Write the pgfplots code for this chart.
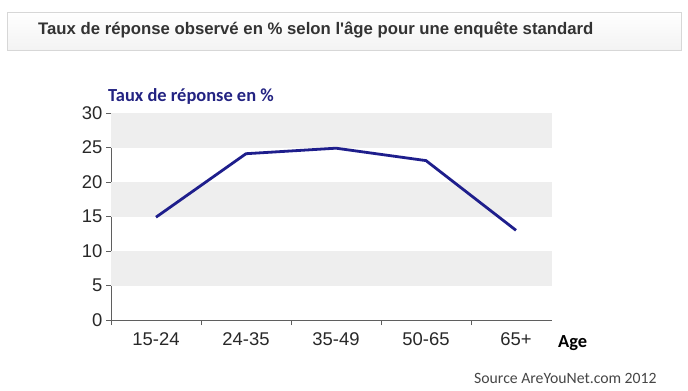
\documentclass[border=0pt]{standalone}
\usepackage{pgfplots}
\pgfplotsset{compat=1.18}
\usepackage{fontspec}
\setmainfont{Liberation Sans}
\newfontfamily\titlefont{Liberation Sans}
\newfontfamily\calibri{Carlito}
\definecolor{navyline}{RGB}{30,30,140}
\definecolor{bandgray}{RGB}{238,238,238}
\definecolor{titletxt}{RGB}{51,51,51}
\definecolor{axgray}{RGB}{95,95,95}
\begin{document}
\begin{tikzpicture}[x=1bp,y=1bp]
\path[use as bounding box] (0,0) rectangle (688,390);
% title box
\shade[top color=white,bottom color={rgb,255:red,243;green,243;blue,243},draw={rgb,255:red,215;green,215;blue,215},line width=0.8bp] (7,340) rectangle (681,378);
\node[anchor=west,font=\titlefont\fontsize{16.8}{20}\selectfont\bfseries,text=titletxt,inner sep=0] at (38,360) {Taux de réponse observé en \% selon l'âge pour une enquête standard};
\begin{axis}[
  at={(111bp,70bp)}, anchor=south west,
  scale only axis, width=441bp, height=207bp,
  xmin=-0.5, xmax=4.4, ymin=0, ymax=30,
  axis x line=bottom, axis y line=left,
  axis line style={-, draw=axgray, line width=1bp},
  xtick={0,1,2,3,4},
  xticklabels={15-24,24-35,35-49,50-65,65+},
  major x tick style={draw=none},
  minor xtick={-0.5,0.5,1.5,2.5,3.5},
  minor x tick style={draw=axgray, line width=1bp},
  minor tick length=5bp,
  ytick={0,5,...,30},
  major tick length=5bp,
  y tick style={draw=axgray, line width=1bp},
  tick align=outside,
  ymajorgrids,
  grid style={dotted, draw={rgb,255:red,175;green,175;blue,175}, line width=0.8bp},
  ticklabel style={font=\fontsize{18.5}{21}\selectfont, text={rgb,255:red,40;green,40;blue,40}},
  xticklabel style={yshift=-4bp},
  /pgf/number format/assume math mode=true,
  axis on top=false,
  clip=false,
]
\fill[bandgray] (axis cs:-0.5,5) rectangle (axis cs:4.4,10);
\fill[bandgray] (axis cs:-0.5,15) rectangle (axis cs:4.4,20);
\fill[bandgray] (axis cs:-0.5,25) rectangle (axis cs:4.4,30);
\addplot[navyline, line width=2.8bp, mark=none] coordinates {
(0,14.9) (1,24.1) (2,24.9) (3,23.1) (4,13.0)
};
\end{axis}
\node[anchor=west,font=\calibri\bfseries\fontsize{18.5}{22}\selectfont,text={rgb,255:red,35;green,35;blue,130},inner sep=0] at (108,294) {Taux de réponse en \%};
\node[anchor=west,font=\calibri\bfseries\fontsize{18.5}{22}\selectfont,text=black,inner sep=0] at (558,47) {Age};
\node[anchor=west,font=\calibri\fontsize{15.8}{19}\selectfont,text={rgb,255:red,70;green,70;blue,70},inner sep=0] at (474,12) {Source AreYouNet.com 2012};
\end{tikzpicture}
\end{document}
